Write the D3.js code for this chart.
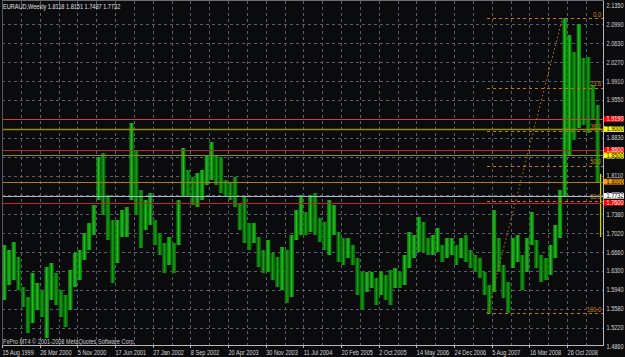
<!DOCTYPE html>
<html>
<head>
<meta charset="utf-8">
<script src="https://cdn.jsdelivr.net/npm/d3@7"></script>
<style>
  html, body { margin: 0; padding: 0; background: #0b0b0d; }
  svg { display: block; }
  text { font-family: "Liberation Sans", Arial, sans-serif; font-size: 6.5px; }
</style>
</head>
<body>
<svg id="chart" width="625" height="357"></svg>
<script>
// ── Data (EURAUD weekly, one entry per 4 weeks from 15 Aug 1999) ─────────────
const WEEKS_PER_BAR = 4;

const barHigh = [
  1.6797, 1.6702, 1.6854, 1.6569, 1.5999, 1.5809, 1.6265, 1.6075, 1.5942, 1.6379,
  1.6455, 1.6265, 1.5942, 1.5847, 1.6322, 1.6645, 1.6702, 1.7025, 1.7215, 1.7557,
  1.8470, 1.8546, 1.7747, 1.7272, 1.7272, 1.7462, 1.7519, 1.9116, 1.8603, 1.7842,
  1.7652, 1.7785, 1.7272, 1.7025, 1.6835, 1.6949, 1.6835, 1.7652, 1.8641, 1.8223,
  1.8090, 1.8166, 1.8223, 1.8508, 1.8755, 1.8508, 1.8470, 1.8033, 1.7976, 1.8090,
  1.7595, 1.7709, 1.7215, 1.7215, 1.6949, 1.6702, 1.6892, 1.6645, 1.6569, 1.6759,
  1.6702, 1.6987, 1.7462, 1.7747, 1.7424, 1.7747, 1.7785, 1.7310, 1.7234, 1.7652,
  1.7557, 1.7044, 1.6930, 1.6930, 1.6797, 1.6550, 1.6284, 1.6284, 1.6284, 1.6170,
  1.6284, 1.6227, 1.6322, 1.6360, 1.6284, 1.6607, 1.7044, 1.6987, 1.7329, 1.7234,
  1.6930, 1.6987, 1.7120, 1.6797, 1.6930, 1.6930, 1.6797, 1.6930, 1.6987, 1.6702,
  1.6607, 1.6550, 1.6284, 1.6037, 1.7462, 1.6930, 1.6417, 1.6094, 1.6930, 1.6987,
  1.6607, 1.6930, 1.7424, 1.6892, 1.6607, 1.6550, 1.6797, 1.7177, 1.7842, 2.1107,
  2.0789, 2.0466, 2.0998, 2.0352, 2.0371, 1.9839, 1.9458
];

const barLow = [
  1.5752, 1.6037, 1.6132, 1.5942, 1.5618, 1.5124, 1.5314, 1.5562, 1.5428, 1.5029,
  1.5752, 1.5656, 1.5428, 1.5238, 1.5562, 1.5999, 1.6132, 1.6512, 1.6702, 1.6987,
  1.7652, 1.7367, 1.6892, 1.6075, 1.6455, 1.6949, 1.6949, 1.7652, 1.7367, 1.6740,
  1.7082, 1.7177, 1.6797, 1.6607, 1.6265, 1.6417, 1.6265, 1.6797, 1.7709, 1.7709,
  1.7557, 1.7519, 1.7652, 1.7938, 1.8033, 1.7938, 1.7785, 1.7709, 1.7652, 1.7519,
  1.7082, 1.6835, 1.6702, 1.6835, 1.6379, 1.6265, 1.6284, 1.6132, 1.5999, 1.5942,
  1.5694, 1.5809, 1.6892, 1.6987, 1.6987, 1.7044, 1.6987, 1.6854, 1.6702, 1.6607,
  1.6987, 1.6474, 1.6417, 1.6550, 1.6417, 1.5847, 1.5562, 1.5904, 1.5980, 1.5656,
  1.5847, 1.5752, 1.5656, 1.5980, 1.5980, 1.6037, 1.6360, 1.6550, 1.6664, 1.6664,
  1.6607, 1.6607, 1.6664, 1.6474, 1.6550, 1.6607, 1.6417, 1.6550, 1.6474, 1.6360,
  1.6284, 1.6170, 1.5847, 1.5498, 1.5904, 1.6284, 1.5790, 1.5510, 1.6360, 1.6474,
  1.5942, 1.6284, 1.6797, 1.6360, 1.6094, 1.6132, 1.6227, 1.6550, 1.6930, 1.7709,
  1.8508, 1.8793, 1.9021, 1.9078, 1.8926, 1.9173, 1.7995
];

// current (last) weekly bar
const lastWeek = 508;
const lastOHLC = [1.8118, 1.8151, 1.7487, 1.7732];
const lastBarSpan = [1.8151, 1.6949];   // as drawn in the picture

// horizontal price lines drawn on the chart
const levelPrices = [1.9190, 1.9000, 1.8600, 1.8500, 1.8000, 1.7732, 1.7600];
const levelKinds  = ['red', 'yellow', 'red', 'yellow', 'orange', 'bid', 'red'];

// fibonacci retracement (week index, price)
const fibWeeks  = [412, 476];
const fibPrices = [1.5498, 2.1107];
const fibLevels = [0.0, 23.6, 38.2, 50.0, 61.8, 100.0];

// axis tick labels
const priceTicks = [2.1350, 2.0990, 2.0630, 2.0270, 1.9910, 1.9550, 1.9190, 1.8830, 1.8470,
                    1.8110, 1.7750, 1.7380, 1.7020, 1.6660, 1.6300, 1.5940, 1.5580, 1.5220, 1.4860];
const dateTicks = ['15 Aug 1999', '26 Mar 2000', '5 Nov 2000', '17 Jun 2001', '27 Jan 2002',
                   '8 Sep 2002', '20 Apr 2003', '30 Nov 2003', '11 Jul 2004', '20 Feb 2005',
                   '2 Oct 2005', '14 May 2006', '24 Dec 2006', '5 Aug 2007', '16 Mar 2008',
                   '26 Oct 2008'];
const DATE_STEP = 32;   // weeks between date labels
const GRID_STEP = 16;   // weeks between vertical grid lines

// ── Layout ────────────────────────────────────────────────────────────────────
const PLOT = { left: 2, right: 603, top: 1, bottom: 345 };
const PX_PER_WEEK = 37.67 / 32;
const SX = 0.86;   // horizontal squeeze of the terminal's narrow font

const LEVEL_STYLE = {
  red:    { line: '#c82222', box: '#ff0000', text: '#ffffff' },
  yellow: { line: '#8e8e12', box: '#ffff00', text: '#000000' },
  orange: { line: '#b8780a', box: '#ffa000', text: '#000000' },
  bid:    { line: '#aab4c4', box: '#ffffff', text: '#000000' }
};
const FIB_COLOR = '#c07a10';

const svg = d3.select('#chart');
const crisp = v => Math.round(v) + 0.5;
const squeeze = (fx, fy) => (d, i) => `translate(${fx(d, i)},${fy(d, i)}) scale(${SX},1)`;

const x = d3.scaleLinear()
  .domain([0, 512])
  .range([PLOT.left, PLOT.left + 512 * PX_PER_WEEK]);
const y = d3.scaleLinear()
  .domain([1.4860, 2.1350])
  .range([346.9, 5.5]);

svg.append('rect').attr('width', 625).attr('height', 357).attr('fill', '#0b0b0d');

// ── Grid ──────────────────────────────────────────────────────────────────────
const grid = svg.append('g')
  .attr('stroke', '#56606c')
  .attr('stroke-width', 1)
  .attr('stroke-dasharray', '3,3');

grid.selectAll('.vgrid')
  .data(d3.range(GRID_STEP, 500, GRID_STEP))
  .join('line')
  .attr('class', 'vgrid')
  .attr('x1', d => crisp(x(d))).attr('x2', d => crisp(x(d)))
  .attr('y1', PLOT.top).attr('y2', PLOT.bottom);

grid.selectAll('.hgrid')
  .data(priceTicks.slice(1, -1))
  .join('line')
  .attr('class', 'hgrid')
  .attr('x1', PLOT.left).attr('x2', PLOT.right)
  .attr('y1', d => crisp(y(d))).attr('y2', d => crisp(y(d)));

// ── Bars ──────────────────────────────────────────────────────────────────────
const bars = barHigh.map((h, i) => ({ i, high: h, low: barLow[i] }));
const rising = (d, i) => i === 0 || (d.high + d.low) >= (bars[i - 1].high + bars[i - 1].low);

const barG = svg.append('g').selectAll('.bar')
  .data(bars)
  .join('g')
  .attr('class', 'bar');

barG.append('rect')
  .attr('x', d => x(d.i * WEEKS_PER_BAR) + 0.2)
  .attr('width', WEEKS_PER_BAR * PX_PER_WEEK - 0.4)
  .attr('y', d => y(d.high))
  .attr('height', d => Math.max(1, y(d.low) - y(d.high)))
  .attr('fill', (d, i) => rising(d, i) ? '#0f8a0f' : '#0a700a');

barG.append('line')
  .attr('x1', d => x(d.i * WEEKS_PER_BAR + 2)).attr('x2', d => x(d.i * WEEKS_PER_BAR + 2))
  .attr('y1', d => y(d.high)).attr('y2', d => y(d.low))
  .attr('stroke', (d, i) => rising(d, i) ? '#22c022' : '#16a016')
  .attr('stroke-width', 1.3);

svg.append('line')
  .attr('x1', x(lastWeek) + 0.6).attr('x2', x(lastWeek) + 0.6)
  .attr('y1', y(lastBarSpan[0])).attr('y2', y(lastBarSpan[1]))
  .attr('stroke', '#c8d200').attr('stroke-width', 1.3);

// ── Price lines ───────────────────────────────────────────────────────────────
svg.append('g').selectAll('.level')
  .data(levelPrices)
  .join('line')
  .attr('class', 'level')
  .attr('x1', PLOT.left).attr('x2', PLOT.right)
  .attr('y1', d => crisp(y(d))).attr('y2', d => crisp(y(d)))
  .attr('stroke', (d, i) => i === 0 ? '#d83a3a' : LEVEL_STYLE[levelKinds[i]].line)
  .attr('stroke-width', (d, i) => i === 1 ? 1.5 : 1);

// ── Fibonacci ─────────────────────────────────────────────────────────────────
const fibG = svg.append('g');
const fibRange = fibPrices[1] - fibPrices[0];
const fibY = d => y(fibPrices[1] - fibRange * d / 100);

fibG.selectAll('.fib')
  .data(fibLevels)
  .join('line')
  .attr('class', 'fib')
  .attr('x1', x(fibWeeks[0])).attr('x2', PLOT.right)
  .attr('y1', d => crisp(fibY(d))).attr('y2', d => crisp(fibY(d)))
  .attr('stroke', FIB_COLOR)
  .attr('stroke-dasharray', '3,3');

fibG.append('line')
  .attr('x1', x(fibWeeks[0])).attr('y1', y(fibPrices[0]))
  .attr('x2', x(fibWeeks[1])).attr('y2', y(fibPrices[1]))
  .attr('stroke', FIB_COLOR)
  .attr('stroke-dasharray', '1.5,2.5');

fibG.selectAll('.fib-label')
  .data(fibLevels)
  .join('text')
  .attr('class', 'fib-label')
  .attr('transform', squeeze(() => 601, d => fibY(d) - 1.5))
  .attr('text-anchor', 'end')
  .attr('fill', '#d08a1a')
  .text(d => d.toFixed(1));

// ── Frame ─────────────────────────────────────────────────────────────────────
const frame = svg.append('g').attr('stroke', '#b8b8b8').attr('stroke-width', 1);
frame.append('line').attr('x1', PLOT.right + 0.5).attr('x2', PLOT.right + 0.5).attr('y1', 0).attr('y2', PLOT.bottom + 1);
frame.append('line').attr('x1', PLOT.left).attr('x2', PLOT.right + 1).attr('y1', PLOT.bottom + 0.5).attr('y2', PLOT.bottom + 0.5);
frame.append('line').attr('x1', PLOT.left + 0.5).attr('x2', PLOT.left + 0.5).attr('y1', 0).attr('y2', PLOT.bottom + 1).attr('stroke', '#5a5a5a');
frame.append('line').attr('x1', PLOT.left).attr('x2', PLOT.right + 1).attr('y1', 0.5).attr('y2', 0.5).attr('stroke', '#6a6a6a');

// ── Right axis labels ─────────────────────────────────────────────────────────
svg.append('g').selectAll('.ptick')
  .data(priceTicks)
  .join('text')
  .attr('class', 'ptick')
  .attr('transform', squeeze(() => 606.5, d => y(d) + 2.3))
  .attr('fill', '#d4d4d4')
  .text(d => d.toFixed(4));

const boxes = svg.append('g').selectAll('.lvl-box')
  .data(levelPrices)
  .join('g')
  .attr('class', 'lvl-box')
  .attr('transform', d => `translate(604,${y(d) - 2.8})`);

boxes.append('rect')
  .attr('width', 20).attr('height', 5.6)
  .attr('fill', (d, i) => LEVEL_STYLE[levelKinds[i]].box);

boxes.append('text')
  .attr('transform', `translate(2.5,5.1) scale(${SX},1)`)
  .attr('fill', (d, i) => LEVEL_STYLE[levelKinds[i]].text)
  .text(d => d.toFixed(4));

// ── Bottom axis labels ────────────────────────────────────────────────────────
const dates = svg.append('g');
dates.selectAll('.dtick')
  .data(dateTicks)
  .join('text')
  .attr('class', 'dtick')
  .attr('transform', squeeze((d, i) => x(i * DATE_STEP) + 0.5, () => 354.5))
  .attr('fill', '#d4d4d4')
  .text(d => d);

dates.selectAll('.dmark')
  .data(dateTicks)
  .join('line')
  .attr('class', 'dmark')
  .attr('x1', (d, i) => crisp(x(i * DATE_STEP))).attr('x2', (d, i) => crisp(x(i * DATE_STEP)))
  .attr('y1', PLOT.bottom).attr('y2', PLOT.bottom + 3)
  .attr('stroke', '#b8b8b8');

// ── Texts ─────────────────────────────────────────────────────────────────────
svg.append('text')
  .attr('transform', `translate(3,8.5) scale(${SX},1)`)
  .attr('fill', '#e0e0e0')
  .text('EURAUD,Weekly  ' + lastOHLC.map(v => v.toFixed(4)).join(' '));

svg.append('text')
  .attr('transform', `translate(3,343.5) scale(${SX},1)`)
  .attr('fill', '#c8c8c8')
  .text('FxPro MT4  \u00a9 2001-2008 MetaQuotes Software Corp.');
</script>
</body>
</html>
